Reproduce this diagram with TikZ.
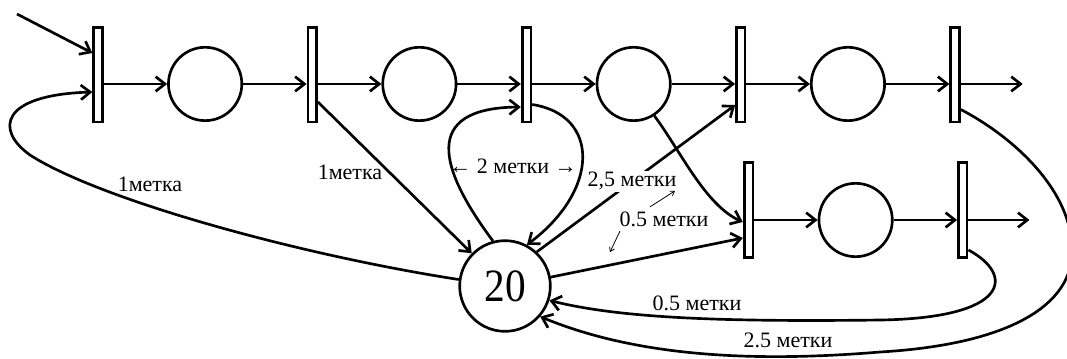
\documentclass[tikz,border=0pt]{standalone}
\usepackage{fontspec}
\setmainfont{Liberation Serif}
\usepackage{graphicx}
\usetikzlibrary{arrows.meta, positioning, calc}
\tikzstyle{place} = [draw, circle, minimum size=55pt, inner sep=0pt, fill=white]
\tikzstyle{transition} = [draw, rectangle, minimum width=6.5pt, minimum height=71pt, inner sep=0pt, fill=white]
\tikzstyle{pool} = [draw, circle, minimum size=68pt, inner sep=0pt, fill=white, font=\fontsize{31}{31}\selectfont]
\tikzstyle{arcnote} = [inner sep=1pt, font=\fontsize{16.5}{18}\selectfont]
\tikzstyle{arrow} = [line width=2pt, -{Straight Barb[length=7pt,width=11pt]}]
\tikzstyle{thinarrow} = [line width=0.6pt, -{Straight Barb[length=3pt,width=4pt]}]

\begin{document}
\begin{tikzpicture}[x=0.75pt, y=-0.75pt, line width=2pt, node distance=47.6pt]
    \useasboundingbox (0,0) rectangle (1067,358);

    % upper chain
    \node (t1) [transition] at (98,74.5) {};
    \node (p1) [place, right=of t1, yshift=-7.1pt] {};
    \node (t2) [transition, right=of p1, yshift=7.1pt] {};
    \node (p2) [place, right=of t2, yshift=-7.1pt] {};
    \node (t3) [transition, right=of p2, yshift=7.1pt] {};
    \node (p3) [place, right=of t3, yshift=-7.1pt] {};
    \node (t4) [transition, right=of p3, yshift=7.1pt] {};
    \node (p4) [place, right=of t4, yshift=-7.1pt] {};
    \node (t5) [transition, right=of p4, yshift=7.1pt] {};
    % lower chain
    \node (t6) [transition] at (748.5,210) {};
    \node (p6) [place, right=of t6, yshift=-7.5pt] {};
    \node (t7) [transition, right=of p6, yshift=7.5pt] {};
    % resource place
    \node (res) [pool] at (505,286) {\scalebox{1}[1.12]{20}};

    \coordinate (in) at (17,14);
    \coordinate (out1) at ($(t5.east |- p4)+(62,0)$);
    \coordinate (out2) at ($(t7.east |- p6)+(61,0)$);

    \draw [arrow] (in) -- ($(t1.west)+(0,-21.5)$);
    \draw [arrow] (t1.east |- p1) -- (p1);
    \draw [arrow] (p1) -- (p1 -| t2.west);
    \draw [arrow] (t2.east |- p2) -- (p2);
    \draw [arrow] (p2) -- (p2 -| t3.west);
    \draw [arrow] (t3.east |- p3) -- (p3);
    \draw [arrow] (p3) -- (p3 -| t4.west);
    \draw [arrow] (t4.east |- p4) -- (p4);
    \draw [arrow] (p4) -- (p4 -| t5.west);
    \draw [arrow] (t5.east |- p4) -- (out1);

    \draw [arrow] (t6.east |- p6) -- (p6);
    \draw [arrow] (p6) -- (p6 -| t7.west);
    \draw [arrow] (t7.east |- p6) -- (out2);

    % arcs to and from the resource
    \draw [arrow] (res.172) .. controls (300,255) and (100,200) .. (30,155)
        .. controls (-5,130) and (0,95) .. ($(t1.west)+(0,17.5)$);
    \draw [arrow] ($(t2.east)+(0,27.5)$) -- (res);
    \draw [arrow] (res.105) .. controls (440,170) and (420,108) .. ($(t3.west)+(0,32.5)$);
    \draw [arrow] ($(t3.east)+(0,30)$) .. controls (600,115) and (600,190) .. (res.62);
    \draw [arrow] (res.47) -- node[arcnote, pos=0.48, fill=white] {2,5 метки} ($(t4.west)+(0,30.5)$);
    \draw [arrow] (p3.-57) .. controls (680,150) and (705,205) .. ($(t6.west)+(0,12)$);
    \draw [arrow] (res.11) -- ($(t6.west)+(0,28)$);
    \draw [arrow] ($(t7.east)+(0,40)$) .. controls (1015,275) and (1010,318) .. (880,320)
        .. controls (720,322) and (620,318) .. (res.-18);
    \draw [arrow] ($(t5.east)+(0,35)$) .. controls (1010,135) and (1075,190) .. (1072,255)
        .. controls (1069,310) and (1000,345) .. (880,352)
        .. controls (760,362) and (640,358) .. (res.-41);

    % arc weights
    \node (w1) [arcnote] at (150,184) {1метка};
    \node (w2) [arcnote] at (350,172) {1метка};
    \node (w3) [arcnote] at (664,219) {0.5 метки};
    \node (w5) [arcnote] at (513,166) {← 2 метки →};
    \node (w6) [arcnote] at (697,303) {0.5 метки};
    \node (w7) [arcnote] at (788,340) {2.5 метки};
    \draw [thinarrow] ($(w3.north)+(-14,-2)$) -- ++(25,-16);
    \draw [thinarrow] ($(w3.south west)+(3,2)$) -- ++(-10,21);
\end{tikzpicture}
\end{document}
